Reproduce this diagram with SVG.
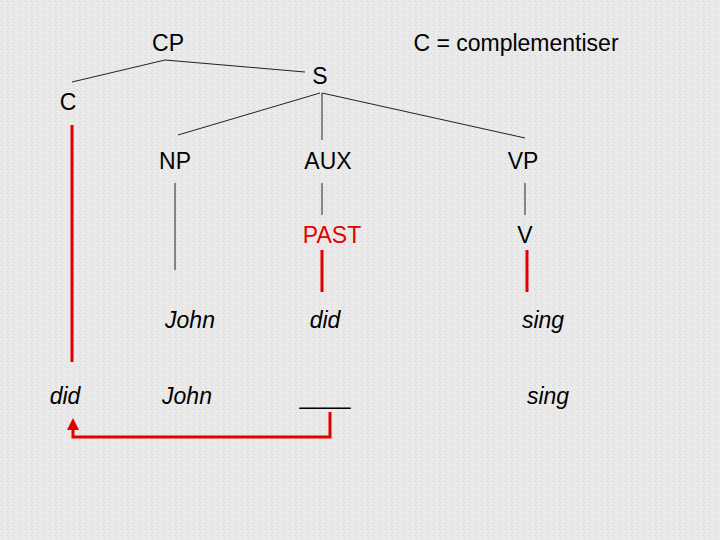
<svg xmlns="http://www.w3.org/2000/svg" width="720" height="540" viewBox="0 0 720 540">
<defs>
<pattern id="tex" width="6" height="6" patternUnits="userSpaceOnUse">
<rect width="6" height="6" fill="#e9e9e9"/>
<rect x="1" y="1" width="1" height="1" fill="#d4d4d4"/>
<rect x="4" y="3" width="1" height="1" fill="#f6f6f6"/>
<rect x="2" y="4" width="1" height="1" fill="#d9d9d9"/>
</pattern>
<marker id="ah" viewBox="0 0 12 12" refX="6" refY="6" markerWidth="12" markerHeight="12" orient="auto" markerUnits="userSpaceOnUse">
<path d="M0,0 L12,6 L0,12 z" fill="#e00000"/>
</marker>
<style>
text{font-family:"Liberation Sans",Arial,sans-serif;font-size:23px;text-anchor:middle;fill:#000}
.i{font-style:italic}
.r{fill:#e00000}
.g line{stroke:#222;stroke-width:1}
.red{stroke:#e00000;stroke-width:3;fill:none}
</style>
</defs>
<rect width="720" height="540" fill="url(#tex)"/>
<g id="connectors">
<g class="g">
<line x1="165" y1="60" x2="72" y2="82"/>
<line x1="165" y1="60" x2="305" y2="72"/>
<line x1="320" y1="93" x2="178" y2="135"/>
<line x1="322" y1="93" x2="322" y2="140"/>
<line x1="322" y1="93" x2="525" y2="138"/>
<line x1="175" y1="183" x2="175" y2="270"/>
<line x1="322" y1="183" x2="322" y2="215"/>
<line x1="525" y1="183" x2="525" y2="215"/>
</g>
<line class="red" x1="72" y1="125" x2="72" y2="362"/>
<line class="red" x1="322" y1="250" x2="322" y2="292"/>
<line class="red" x1="527" y1="250" x2="527" y2="292"/>
<path class="red" d="M330,412 V437 H73 V424" marker-end="url(#ah)"/>
</g>
<g id="CP"><text x="168" y="51">CP</text></g>
<g id="note"><text x="516" y="51">C = complementiser</text></g>
<g id="S"><text x="320" y="84">S</text></g>
<g id="C"><text x="68" y="110">C</text></g>
<g id="NP"><text x="175" y="169">NP</text></g>
<g id="AUX"><text x="328" y="169">AUX</text></g>
<g id="VP"><text x="523" y="169">VP</text></g>
<g id="PAST"><text class="r" x="332" y="243">PAST</text></g>
<g id="V"><text x="525" y="243">V</text></g>
<g id="John1"><text class="i" x="190" y="328">John</text></g>
<g id="did1"><text class="i" x="325" y="328">did</text></g>
<g id="sing1"><text class="i" x="543" y="328">sing</text></g>
<g id="did2"><text class="i" x="65" y="404">did</text></g>
<g id="John2"><text class="i" x="187" y="404">John</text></g>
<g id="gap"><text x="325" y="404">____</text></g>
<g id="sing2"><text class="i" x="548" y="404">sing</text></g>
</svg>
